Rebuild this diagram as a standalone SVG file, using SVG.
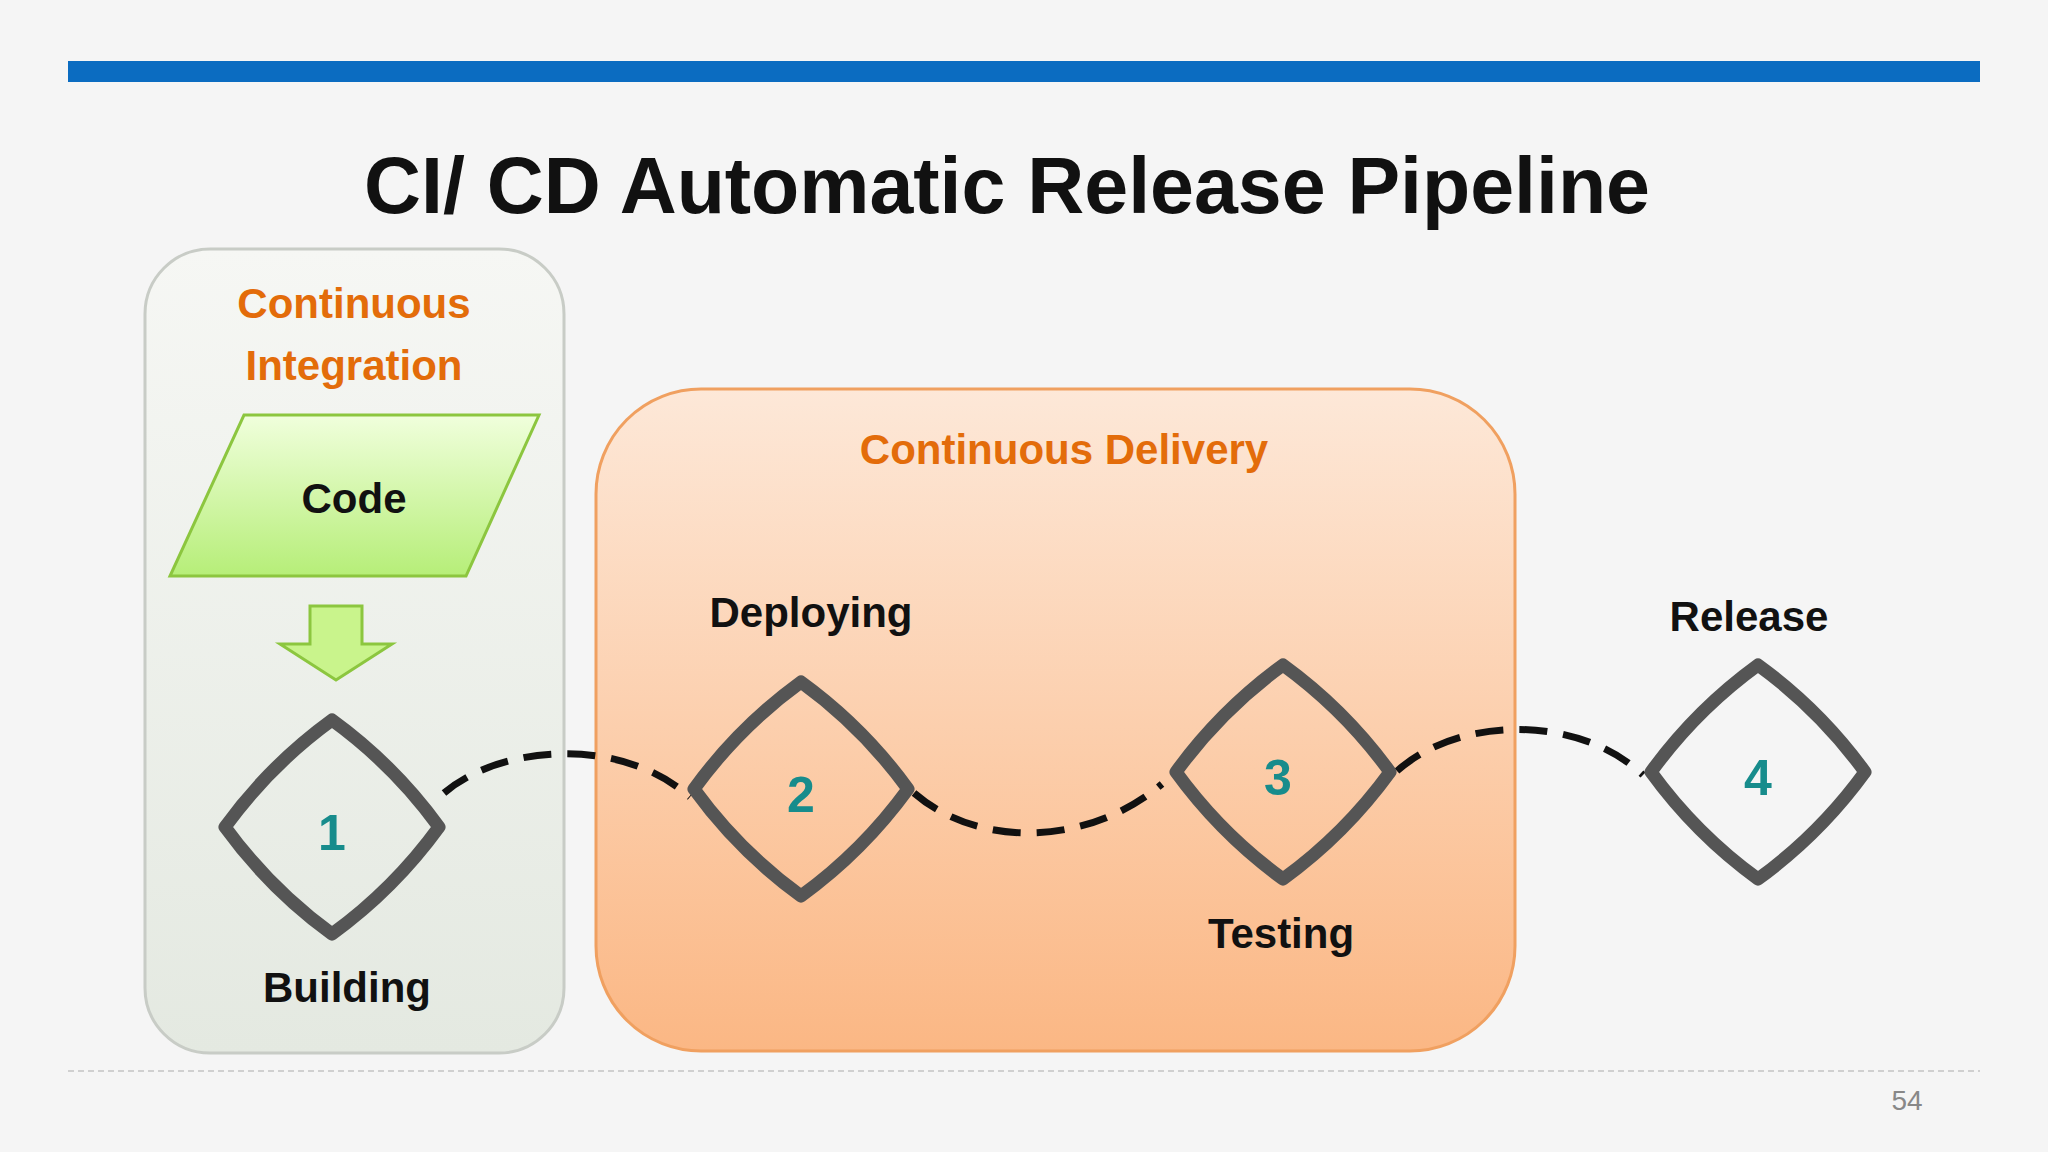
<svg xmlns="http://www.w3.org/2000/svg" width="2048" height="1152" viewBox="0 0 2048 1152">
<defs>
<linearGradient id="gCI" x1="0" y1="0" x2="0" y2="1"><stop offset="0" stop-color="#f6f7f4"/><stop offset="1" stop-color="#e4e9e1"/></linearGradient>
<linearGradient id="gCD" x1="0" y1="0" x2="0" y2="1"><stop offset="0" stop-color="#fde8d8"/><stop offset="1" stop-color="#fbb784"/></linearGradient>
<linearGradient id="gCode" x1="0" y1="0" x2="0" y2="1"><stop offset="0" stop-color="#f0ffdc"/><stop offset="1" stop-color="#b6ee78"/></linearGradient>
<path id="dia" d="M0,-107 Q62,-62 107,0 Q62,62 0,107 Q-62,62 -107,0 Q-62,-62 0,-107 Z"/>
</defs>
<style>
.t{font-family:"Liberation Sans",Arial,sans-serif;font-weight:bold;text-anchor:middle}
.lbl{font-size:42px;fill:#111}
.or{font-size:42px;fill:#e36c0a}
.num{font-size:50px;fill:#178c8c}
.d{fill:none;stroke:#555;stroke-width:13;stroke-linejoin:round}
.c{fill:none;stroke:#111;stroke-width:7;stroke-dasharray:28 16}
</style>
<rect width="2048" height="1152" fill="#f5f5f5"/>
<rect x="68" y="61" width="1912" height="21" fill="#0b6cc1"/>
<text class="t" x="1007" y="213" font-size="80" fill="#111" textLength="1286" lengthAdjust="spacingAndGlyphs">CI/ CD Automatic Release Pipeline</text>
<g id="ci">
<rect x="145" y="249" width="419" height="804" rx="65" fill="url(#gCI)" stroke="#c8ccc6" stroke-width="3"/>
<text class="t or" x="354" y="318">Continuous</text>
<text class="t or" x="354" y="380">Integration</text>
</g>
<g id="code">
<polygon points="244,415 539,415 466,576 170,576" fill="url(#gCode)" stroke="#8cc63f" stroke-width="3"/>
<text class="t lbl" x="354" y="513">Code</text>
</g>
<g id="arrow">
<polygon points="310,606 362,606 362,644 392,644 336,680 280,644 310,644" fill="#c9f48c" stroke="#8cc63f" stroke-width="3"/>
</g>
<g id="cd">
<rect x="596" y="389" width="919" height="662" rx="105" fill="url(#gCD)" stroke="#f0a060" stroke-width="3"/>
<text class="t or" x="1064" y="464">Continuous Delivery</text>
</g>
<g id="connectors">
<path class="c" d="M444,793 C500,745 620,735 690,797"/>
<path class="c" d="M914,793 C980,850 1090,845 1162,784"/>
<path class="c" d="M1397,771 C1460,715 1580,715 1643,775"/>
</g>
<g id="n1"><use href="#dia" x="332" y="827" class="d"/><text class="t num" x="332" y="850">1</text><text class="t lbl" x="347" y="1002">Building</text></g>
<g id="n2"><use href="#dia" x="801" y="789" class="d"/><text class="t num" x="801" y="812">2</text><text class="t lbl" x="811" y="627">Deploying</text></g>
<g id="n3"><use href="#dia" x="1283" y="772" class="d"/><text class="t num" x="1278" y="795">3</text><text class="t lbl" x="1281" y="948">Testing</text></g>
<g id="n4"><use href="#dia" x="1758" y="772" class="d"/><text class="t num" x="1758" y="795">4</text><text class="t lbl" x="1749" y="631">Release</text></g>
<line x1="68" y1="1071" x2="1980" y2="1071" stroke="#d0d0d0" stroke-width="2" stroke-dasharray="6 4"/>
<text x="1907" y="1110" font-family="Liberation Sans,Arial,sans-serif" font-size="28" fill="#888" text-anchor="middle">54</text>
</svg>
